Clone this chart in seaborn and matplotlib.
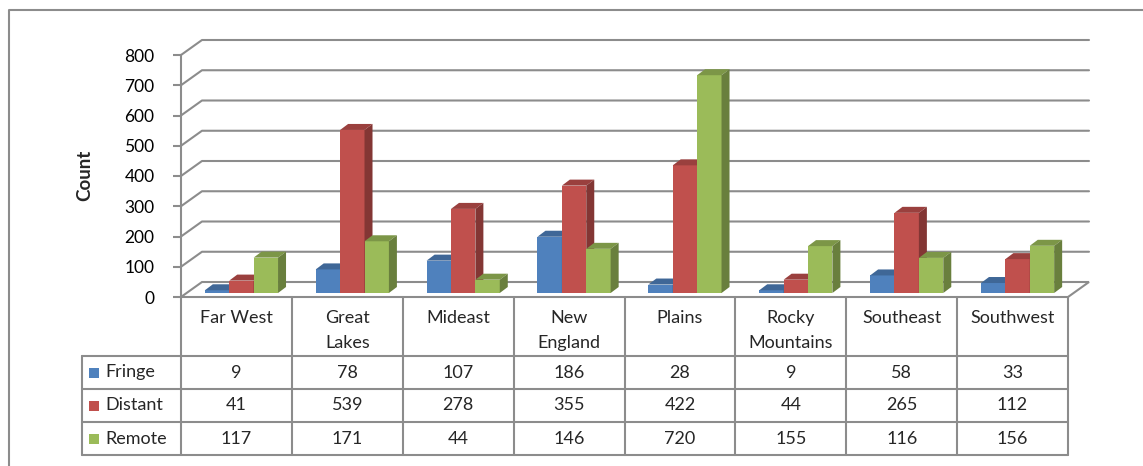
import numpy as np
import pandas as pd
import matplotlib
matplotlib.use('Agg')
import matplotlib.pyplot as plt
from matplotlib.patches import Polygon, Rectangle
from matplotlib.lines import Line2D
import seaborn as sns

# data
regions = ['Far West', 'Great\nLakes', 'Mideast', 'New\nEngland', 'Plains',
           'Rocky\nMountains', 'Southeast', 'Southwest']
series = ['Fringe', 'Distant', 'Remote']
fringe = [9, 78, 107, 186, 28, 9, 58, 33]
distant = [41, 539, 278, 355, 422, 44, 265, 112]
remote = [117, 171, 44, 146, 720, 155, 116, 156]
yticks = [0, 100, 200, 300, 400, 500, 600, 700, 800]

colors = ['#4F81BD', '#C0504D', '#9BBB59']
grid_c = '#8C8C8C'

sns.set_style('white')
plt.rcParams['font.family'] = ['Lato', 'DejaVu Sans']

df = pd.DataFrame({
    'Region': regions * 3,
    'Series': [s for s in series for _ in regions],
    'Count': fringe + distant + remote,
})

W, H = 1143, 466
fig = plt.figure(figsize=(W / 100, H / 100), dpi=100)

def fx(px):
    return px / W

def fy(py):
    return 1 - py / H

# front floor edge / axis frame in pixels
x0, x1, yb, yt = 181, 1068, 297, 55
ax = fig.add_axes([fx(x0), fy(yb), (x1 - x0) / W, (yb - yt) / H])

sns.barplot(data=df, x='Region', y='Count', hue='Series', palette=colors,
            width=0.66, saturation=1, legend=False, ax=ax, linewidth=0)
bars = sorted(ax.patches, key=lambda p: p.get_x())

ax.set_xlim(-0.5, 7.5)
ax.set_ylim(0, 800)
ux = (x1 - x0) / 8.0
uy = (yb - yt) / 800.0

# back wall offset (perspective)
bx, by = 21 / ux, 15 / uy

# floor
floor = Polygon([(-0.5, 0), (7.5, 0), (7.5 + bx, by), (-0.5 + bx, by)],
                closed=True, facecolor='white', edgecolor=grid_c, lw=1.5,
                clip_on=False, zorder=1)
ax.add_patch(floor)
# gridlines on side + back wall
for v in yticks[1:]:
    ax.plot([-0.5, -0.5 + bx, 7.5 + bx], [v, v + by, v + by], color=grid_c,
            lw=1.5, clip_on=False, zorder=0.5)

# 3d look on the bars
ox, oy = 5 / ux, 4 / uy
dx, dy = 8 / ux, 6 / uy
for i, p in enumerate(bars):
    p.set_x(p.get_x() + ox)
    p.set_y(p.get_y() + oy)
    x, y, w, h = p.get_x(), p.get_y(), p.get_width(), p.get_height()
    fc = np.array(matplotlib.colors.to_rgb(p.get_facecolor()))
    z = 3 + i * 0.01
    p.set_zorder(z)
    p.set_clip_on(False)
    top = Polygon([(x, y + h), (x + w, y + h), (x + w + dx, y + h + dy), (x + dx, y + h + dy)],
                  closed=True, facecolor=fc * 0.8, edgecolor='none', zorder=z, clip_on=False)
    side = Polygon([(x + w, y), (x + w + dx, y + dy), (x + w + dx, y + h + dy), (x + w, y + h)],
                   closed=True, facecolor=fc * 0.68, edgecolor='none', zorder=z, clip_on=False)
    ax.add_patch(top)
    ax.add_patch(side)

for s in ['top', 'right', 'bottom']:
    ax.spines[s].set_visible(False)
ax.spines['left'].set_color(grid_c)
ax.spines['left'].set_linewidth(1.5)
ax.set_yticks(yticks)
ax.set_xticks([])
ax.tick_params(axis='y', left=True, length=6, width=1.5, color=grid_c,
               labelsize=12.5, pad=13, labelcolor='black')
ax.set_xlabel('')
ax.set_ylabel('')
fig.text(fx(85), fy(175), 'Count', rotation=90, ha='center', va='center',
         fontsize=13.5, fontweight='bold')

# data table
def hline(xa, xb, y):
    fig.add_artist(Line2D([fx(xa), fx(xb)], [fy(y), fy(y)], color=grid_c, lw=1.5))

def vline(x, ya, yb_):
    fig.add_artist(Line2D([fx(x), fx(x)], [fy(ya), fy(yb_)], color=grid_c, lw=1.5))

row_y = [356, 389, 422, 455]
lab_x = 82
for i in range(9):
    vline(x0 + i * ux, yb, row_y[-1])
vline(lab_x, row_y[0], row_y[-1])
for y in row_y:
    hline(lab_x, x1, y)

fs = 13
for i, r in enumerate(regions):
    cx = x0 + (i + 0.5) * ux
    for k, line in enumerate(r.split('\n')):
        fig.text(fx(cx), fy(318 + 25 * k), line, ha='center', va='center', fontsize=fs)

vals = [fringe, distant, remote]
for j, (s, v) in enumerate(zip(series, vals)):
    cy = (row_y[j] + row_y[j + 1]) / 2
    fig.add_artist(Rectangle((fx(89), fy(cy + 5)), 10 / W, 10 / H, facecolor=colors[j],
                             edgecolor='none'))
    fig.text(fx(105), fy(cy), s, ha='left', va='center', fontsize=fs)
    for i, n in enumerate(v):
        fig.text(fx(x0 + (i + 0.5) * ux), fy(cy), str(n), ha='center', va='center',
                 fontsize=fs)

# outer frame (top and left edges)
fig.add_artist(Line2D([fx(9), fx(9), 1], [0, fy(10), fy(10)], color='#8C8C8C', lw=1.5))

fig.savefig('out.png', dpi=100)
